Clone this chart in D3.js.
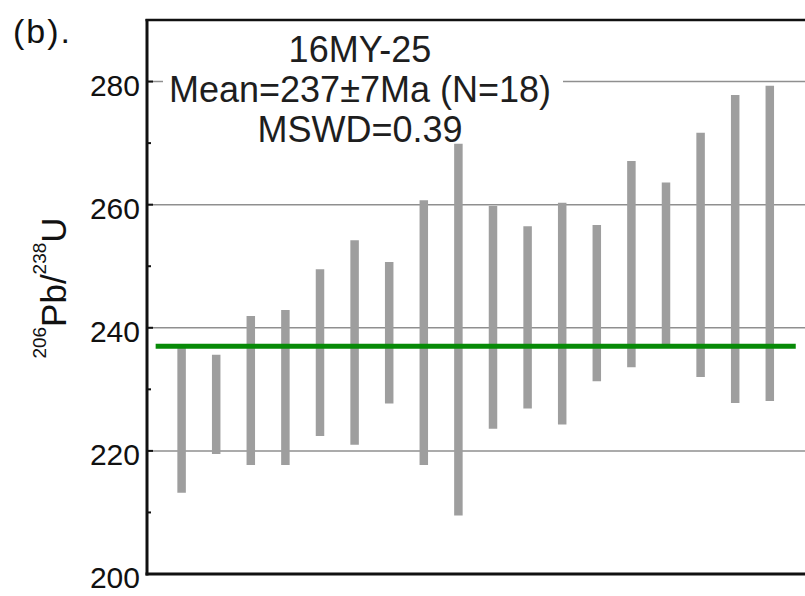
<!DOCTYPE html>
<html>
<head>
<meta charset="utf-8">
<script src="https://cdn.jsdelivr.net/npm/d3@7"></script>
<style>
  html, body { margin: 0; padding: 0; background: #fff; }
  svg { display: block; font-family: "Liberation Sans", Arial, sans-serif; }
</style>
</head>
<body>
<svg id="chart" width="805" height="596"></svg>
<script>
// 206Pb/238U ages (Ma) of the analysed spots, 2-sigma error bars
const spots = d3.range(1, 19);
const lowerAge = [213.2, 219.5, 217.7, 217.7, 222.4, 221.0, 227.7, 217.7, 209.5,
                  223.6, 226.9, 224.3, 231.3, 233.6, 236.8, 232.0, 227.8, 228.1];
const upperAge = [236.8, 235.6, 241.9, 242.9, 249.5, 254.2, 250.7, 260.7, 269.9,
                  259.8, 256.5, 260.3, 256.7, 267.1, 263.6, 271.7, 277.8, 279.3];

// weighted mean
const meanAge = 237;
const meanSpan = [0.25, 18.75];

const majorTicks = [200, 220, 240, 260, 280];
const minorTicks = [210, 230, 250, 270];
const gridValues = [220, 240, 260, 280];

const sampleName = "16MY-25";
const statLines = [sampleName, "Mean=237±7Ma (N=18)", "MSWD=0.39"];

const svg = d3.select("#chart");
const plotLeft = 147, plotRight = 805, plotTop = 20, plotBottom = 574;

const x = d3.scaleLinear().domain([0, 19]).range([plotLeft, 804.4]);
const y = d3.scaleLinear().domain([200, 290]).range([plotBottom, plotTop]);

svg.append("rect").attr("width", 805).attr("height", 596).attr("fill", "#fff");

// horizontal grid
svg.append("g").selectAll("line").data(gridValues).join("line")
  .attr("x1", plotLeft).attr("x2", plotRight)
  .attr("y1", d => y(d)).attr("y2", d => y(d))
  .attr("stroke", "#8f8f8f").attr("stroke-width", 1.5);

// backing for the statistics block
svg.append("rect")
  .attr("x", 163).attr("y", 28).attr("width", 400).attr("height", 118)
  .attr("fill", "#fff");

// error bars
svg.append("g").selectAll("line").data(spots).join("line")
  .attr("x1", d => x(d)).attr("x2", d => x(d))
  .attr("y1", (d, i) => y(upperAge[i])).attr("y2", (d, i) => y(lowerAge[i]))
  .attr("stroke", "#9e9e9e").attr("stroke-width", 8.5);

// mean line
svg.append("line")
  .attr("x1", x(meanSpan[0])).attr("x2", x(meanSpan[1]))
  .attr("y1", y(meanAge)).attr("y2", y(meanAge))
  .attr("stroke", "#078a07").attr("stroke-width", 5);

// statistics text
svg.append("g").selectAll("text").data(statLines).join("text")
  .attr("x", 360).attr("y", (d, i) => 62 + i * 40)
  .attr("text-anchor", "middle")
  .attr("font-size", 36).attr("fill", "#1e1e1e")
  .text(d => d);

// y axis: ticks point into the plot
const yAxis = svg.append("g");
yAxis.selectAll("line.major").data(majorTicks).join("line").attr("class", "major")
  .attr("x1", plotLeft).attr("x2", plotLeft + 6)
  .attr("y1", d => y(d)).attr("y2", d => y(d))
  .attr("stroke", "#111").attr("stroke-width", 2);
yAxis.selectAll("line.minor").data(minorTicks).join("line").attr("class", "minor")
  .attr("x1", plotLeft).attr("x2", plotLeft + 4)
  .attr("y1", d => y(d)).attr("y2", d => y(d))
  .attr("stroke", "#111").attr("stroke-width", 2);
yAxis.selectAll("text").data(majorTicks).join("text")
  .attr("x", 140).attr("y", d => y(d) + 14)
  .attr("text-anchor", "end").attr("font-size", 30).attr("fill", "#111")
  .text(d => d);

// frame
svg.append("line").attr("x1", plotLeft).attr("x2", plotLeft).attr("y1", plotTop - 1).attr("y2", plotBottom + 1.5)
  .attr("stroke", "#111").attr("stroke-width", 3);
svg.append("line").attr("x1", plotLeft - 1.5).attr("x2", plotRight).attr("y1", plotBottom).attr("y2", plotBottom)
  .attr("stroke", "#111").attr("stroke-width", 3);
svg.append("line").attr("x1", plotLeft - 1.5).attr("x2", plotRight).attr("y1", plotTop).attr("y2", plotTop)
  .attr("stroke", "#111").attr("stroke-width", 2.5);

// axis title
const yTitle = svg.append("text")
  .attr("transform", "translate(66,288) rotate(-90)")
  .attr("text-anchor", "middle").attr("fill", "#111").attr("font-size", 35);
yTitle.append("tspan").attr("font-size", 19).attr("dy", -20).text("206");
yTitle.append("tspan").attr("dy", 20).text("Pb/");
yTitle.append("tspan").attr("font-size", 19).attr("dy", -20).text("238");
yTitle.append("tspan").attr("dy", 20).text("U");

// panel label
svg.append("text").attr("x", 13).attr("y", 43)
  .attr("font-size", 34).attr("letter-spacing", 2).attr("fill", "#111").text("(b).");
</script>
</body>
</html>
